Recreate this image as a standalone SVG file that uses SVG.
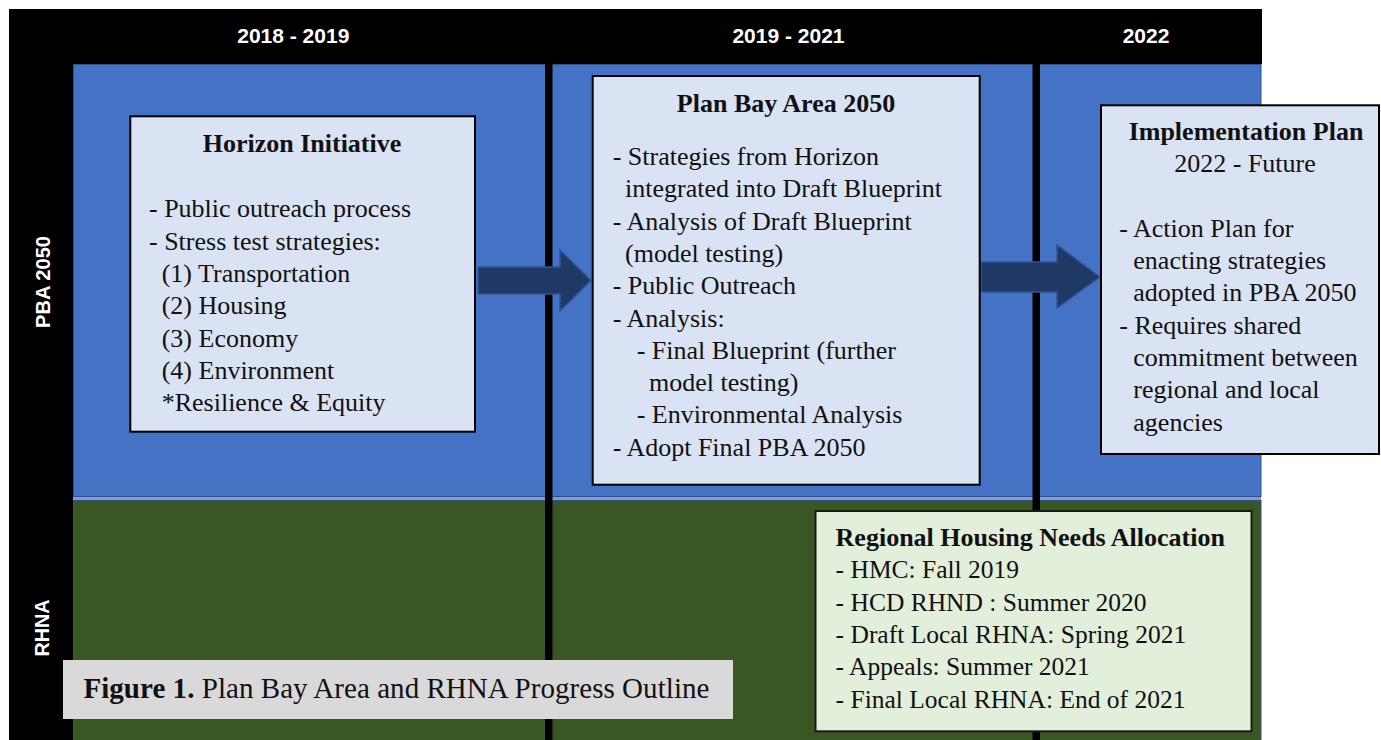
<svg xmlns="http://www.w3.org/2000/svg" width="1381" height="740" viewBox="0 0 1381 740">
<style>
.hdr{font-family:"Liberation Sans",Arial,sans-serif;font-weight:bold;font-size:21px;fill:#fff}
.box{fill:#dae3f3;stroke:#000;stroke-width:2}
.gbox{fill:#e2efda;stroke:#1a1a1a;stroke-width:2}
.t{font-family:"Liberation Serif","Times New Roman",serif;font-size:26px;fill:#111}
.tb{font-family:"Liberation Serif","Times New Roman",serif;font-size:26px;font-weight:bold;fill:#111}
.mid{text-anchor:middle}
.arrow{fill:#203864;stroke:#2f5597;stroke-width:1.5}
.div{fill:#000}
</style>
<rect width="1381" height="740" fill="#fff"/>
<g id="background">
  <rect x="9" y="9" width="1253" height="55" fill="#000"/>
  <rect x="9" y="9" width="64" height="731" fill="#000"/>
  <rect x="73" y="495" width="1188" height="7" fill="#7f9bd0"/>
  <rect x="73.5" y="64.5" width="1187.5" height="432" fill="#4472c4" stroke="#2f528f" stroke-width="1"/>
  <rect x="73.5" y="500.5" width="1187.5" height="240" fill="#385723" stroke="#2f528f" stroke-width="1"/>
  <rect class="div" x="545" y="64" width="7.5" height="676"/>
  <rect class="div" x="1032.5" y="64" width="7.5" height="676"/>
  <text class="hdr mid" x="293.3" y="43.3">2018 - 2019</text>
  <text class="hdr mid" x="788.5" y="43.3">2019 - 2021</text>
  <text class="hdr mid" x="1146" y="43.3">2022</text>
  <text class="hdr mid" transform="translate(49.5,282) rotate(-90)" textLength="92" lengthAdjust="spacingAndGlyphs">PBA 2050</text>
  <text class="hdr mid" transform="translate(48.5,628) rotate(-90)" textLength="57" lengthAdjust="spacingAndGlyphs">RHNA</text>
</g>
<g id="connectors">
  <polygon class="arrow" points="478,267 560,267 560,250 591,280.5 560,311 560,294 478,294"/>
  <polygon class="arrow" points="981,262 1057,262 1057,245 1100,277 1057,308 1057,292 981,292"/>
</g>
<g id="horizon">
  <rect class="box" x="130.3" y="116.3" width="344.7" height="315.4"/>
  <text class="tb mid" x="302" y="152">Horizon Initiative</text>
  <text class="t" x="149" y="217.3">- Public outreach process</text>
  <text class="t" x="149" y="249.6">- Stress test strategies:</text>
  <text class="t" x="161.7" y="281.9">(1) Transportation</text>
  <text class="t" x="161.7" y="314.2">(2) Housing</text>
  <text class="t" x="161.7" y="346.5">(3) Economy</text>
  <text class="t" x="161.7" y="378.8">(4) Environment</text>
  <text class="t" x="161.7" y="411.1">*Resilience &amp; Equity</text>
</g>
<g id="pba2050">
  <rect class="box" x="592.7" y="76" width="387" height="408.7"/>
  <text class="tb mid" x="786" y="111.7">Plan Bay Area 2050</text>
  <text class="t" x="612.7" y="165">- Strategies from Horizon</text>
  <text class="t" x="625" y="197.3">integrated into Draft Blueprint</text>
  <text class="t" x="612.7" y="229.6">- Analysis of Draft Blueprint</text>
  <text class="t" x="625" y="261.9">(model testing)</text>
  <text class="t" x="612.7" y="294.2">- Public Outreach</text>
  <text class="t" x="612.7" y="326.5">- Analysis:</text>
  <text class="t" x="636.7" y="358.8">- Final Blueprint (further</text>
  <text class="t" x="649" y="391.1">model testing)</text>
  <text class="t" x="636.7" y="423.4">- Environmental Analysis</text>
  <text class="t" x="612.7" y="455.7">- Adopt Final PBA 2050</text>
</g>
<g id="implementation">
  <rect class="box" x="1101" y="105.3" width="278" height="348.7"/>
  <text class="tb mid" x="1246" y="140">Implementation Plan</text>
  <text class="t mid" x="1245" y="172.3">2022 - Future</text>
  <text class="t" x="1119.3" y="236.7">- Action Plan for</text>
  <text class="t" x="1133.3" y="269">enacting strategies</text>
  <text class="t" x="1133.3" y="301.3">adopted in PBA 2050</text>
  <text class="t" x="1119.3" y="333.6">- Requires shared</text>
  <text class="t" x="1133.3" y="365.9">commitment between</text>
  <text class="t" x="1133.3" y="398.2">regional and local</text>
  <text class="t" x="1133.3" y="430.5">agencies</text>
</g>
<g id="rhna">
  <rect class="gbox" x="815.5" y="511" width="436" height="220.3"/>
  <text class="tb" x="835.6" y="546">Regional Housing Needs Allocation</text>
  <text class="t" x="835.6" y="578.3" style="font-size:25.5px">- HMC: Fall 2019</text>
  <text class="t" x="835.6" y="610.6" style="font-size:25.5px">- HCD RHND : Summer 2020</text>
  <text class="t" x="835.6" y="642.9" style="font-size:25.5px">- Draft Local RHNA: Spring 2021</text>
  <text class="t" x="835.6" y="675.2" style="font-size:25.5px">- Appeals: Summer 2021</text>
  <text class="t" x="835.6" y="707.5" style="font-size:25.5px">- Final Local RHNA: End of 2021</text>
</g>
<g id="caption">
  <rect x="63" y="660" width="670" height="59" fill="#d9d9d9"/>
  <text class="t" x="83.4" y="698.3" style="font-size:29px" textLength="626" lengthAdjust="spacing"><tspan font-weight="bold">Figure 1.</tspan> Plan Bay Area and RHNA Progress Outline</text>
</g>
</svg>
